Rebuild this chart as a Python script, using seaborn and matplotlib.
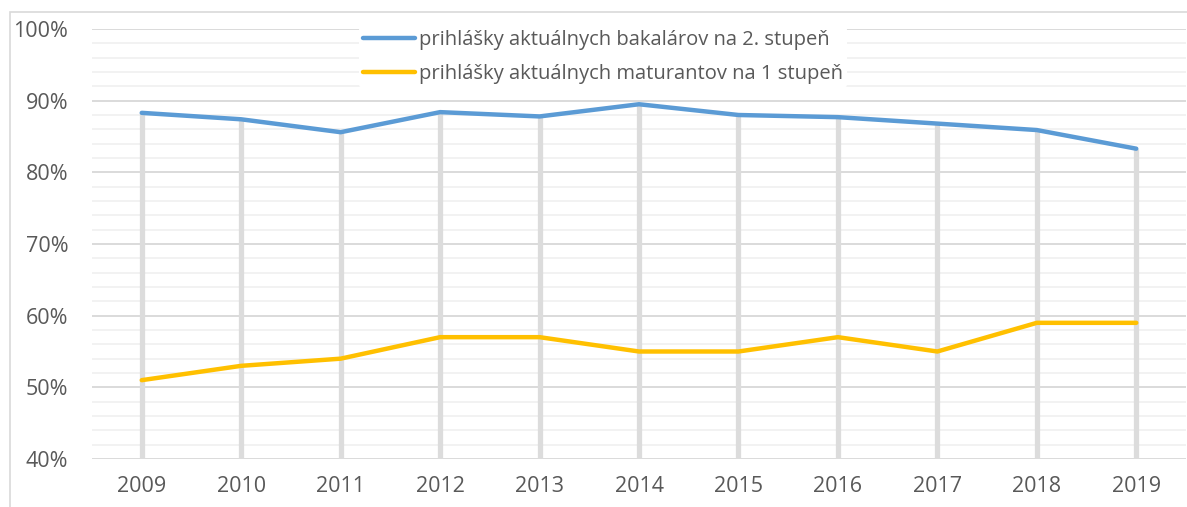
import pandas as pd
import matplotlib.pyplot as plt
import seaborn as sns
from matplotlib.ticker import MultipleLocator, FuncFormatter

years = ['2009', '2010', '2011', '2012', '2013', '2014', '2015', '2016', '2017', '2018', '2019']
bakalari = [88.3, 87.4, 85.6, 88.4, 87.8, 89.5, 88.0, 87.7, 86.8, 85.9, 83.3]
maturanti = [51, 53, 54, 57, 57, 55, 55, 57, 55, 59, 59]
series_names = ['prihlášky aktuálnych bakalárov na 2. stupeň',
                'prihlášky aktuálnych maturantov na 1 stupeň']
colors = ['#5B9BD5', '#FFC000']

df = pd.DataFrame({'rok': years * 2,
                   'hodnota': bakalari + maturanti,
                   'seria': [series_names[0]] * len(years) + [series_names[1]] * len(years)})

sns.set_style('white')
plt.rcParams['font.family'] = ['Open Sans', 'DejaVu Sans']

fig = plt.figure(figsize=(11.87, 5.07), dpi=100)
ax = fig.add_axes([92 / 1187, 48 / 507, 1094 / 1187, 430 / 507])

# thin border of the chart area (only left and top visible in the crop)
fig.patches.append(plt.Rectangle((10 / 1187, -0.1), 1.2, 1 - 12 / 507 + 0.1,
                                 transform=fig.transFigure, fill=False,
                                 edgecolor='#D9D9D9', linewidth=1.2))

# drop lines from the top series down to the axis
x_pos = list(range(len(years)))
tops = [max(a, b) for a, b in zip(bakalari, maturanti)]
ax.vlines(x_pos, 40, tops, color='#DCDCDC', linewidth=3.8, zorder=1)

sns.lineplot(data=df, x='rok', y='hodnota', hue='seria', palette=colors,
             linewidth=3.2, ax=ax, zorder=3, sort=False)

ax.set_xlim(-0.5, len(years) - 0.5)
ax.set_ylim(40, 100)
ax.yaxis.set_major_locator(MultipleLocator(10))
ax.yaxis.set_minor_locator(MultipleLocator(2))
ax.yaxis.set_major_formatter(FuncFormatter(lambda v, p: f'{v:.0f}%'))
ax.grid(which='major', axis='y', color='#D4D4D4', linewidth=1.2, zorder=0)
ax.grid(which='minor', axis='y', color='#F0F0F0', linewidth=1.2, zorder=0)
ax.set_axisbelow(True)
for s in ax.spines.values():
    s.set_visible(False)
ax.tick_params(axis='both', which='both', length=0, labelsize=15.5, labelcolor='#595959')
ax.tick_params(axis='y', pad=17)
ax.tick_params(axis='x', pad=12)
ax.set_xlabel('')
ax.set_ylabel('')

leg = ax.legend(loc='upper left', bbox_to_anchor=((359 - 92) / 1094, 1.008),
                frameon=True, fontsize=14.5, handlelength=2.6, handletextpad=0.2,
                labelspacing=0.72, borderpad=0.2, borderaxespad=0)
leg.get_frame().set_facecolor('white')
leg.get_frame().set_edgecolor('none')
leg.get_frame().set_alpha(1)
for t in leg.get_texts():
    t.set_color('#595959')
for h in leg.get_lines():
    h.set_linewidth(3.2)

fig.savefig('out.png', dpi=100)
